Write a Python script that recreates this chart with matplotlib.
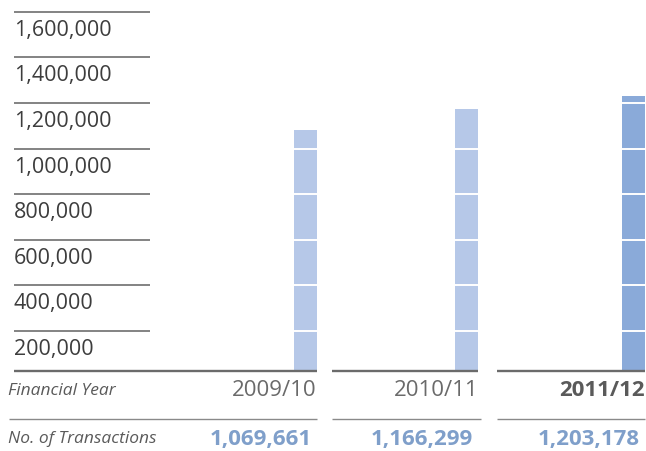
import matplotlib

matplotlib.use("Agg")

import matplotlib.pyplot as plt

# data
years = ["2009/10", "2010/11", "2011/12"]
transactions = [1069661, 1166299, 1203178]
# bar heights as drawn in the source picture (slightly taller than the table values)
bar_heights = [1080000, 1175000, 1230000]
y_ticks = [200000, 400000, 600000, 800000, 1000000, 1200000, 1400000, 1600000]
row_labels = ["Financial Year", "No. of Transactions"]

# style
BAR_COLORS = ["#b6c8e8", "#b6c8e8", "#8aaad9"]
TEXT_DARK = "#3d3d3d"
TEXT_MID = "#5a5a5a"
VALUE_COLOR = "#7f9fca"
LINE_GREY = "#7a7a7a"
BASE_GREY = "#6b6b6b"

W, H = 646, 451
BASE_PX = 371  # pixel row of the baseline
PX_PER_UNIT = 164.0  # horizontal pixels per x unit
FIRST_BAR_PX = 305.5
BAR_POS = [0, 0.982, 2.0]  # column positions (middle column sits a little left)
BAR_W = 0.14
Y0_PX = 376.5  # pixel row of value 0
PX_PER_VAL = 45.6 / 200000

plt.rcParams["font.family"] = ["Open Sans", "DejaVu Sans"]

fig = plt.figure(figsize=(W / 100, H / 100), dpi=100)
xlim = ((0 - FIRST_BAR_PX) / PX_PER_UNIT, (W - FIRST_BAR_PX) / PX_PER_UNIT)


def px_to_x(px):
    return (px - FIRST_BAR_PX) / PX_PER_UNIT


# chart area
ax = fig.add_axes([0, (H - BASE_PX) / H, 1, BASE_PX / H])
ax.set_xlim(*xlim)
ax.set_ylim((Y0_PX - BASE_PX) / PX_PER_VAL, Y0_PX / PX_PER_VAL)
ax.axis("off")

ax.bar(BAR_POS, bar_heights, width=BAR_W, color=BAR_COLORS, zorder=2)
for t in y_ticks:
    ax.hlines(t, BAR_POS[0] - BAR_W, BAR_POS[-1] + BAR_W, color="white", lw=1.4, zorder=3)
    ax.hlines(t, px_to_x(14), px_to_x(150), color=LINE_GREY, lw=1.3, zorder=3)
    ax.annotate(f"{t:,}", (px_to_x(14), t), xytext=(0, -24), textcoords="offset pixels",
                ha="left", va="baseline", fontsize=15.5, color=TEXT_DARK)

# column spans (left edge of each column, bar right edge on the right)
col_left = [px_to_x(14), px_to_x(332), px_to_x(497)]
for i, pos in enumerate(BAR_POS):
    ax.hlines(ax.get_ylim()[0], col_left[i], pos + BAR_W / 2, color=BASE_GREY, lw=1.7,
              zorder=4, clip_on=False)

# table area below the baseline
tx = fig.add_axes([0, 0, 1, (H - BASE_PX) / H])
tx.set_xlim(*xlim)
tx.set_ylim(H - BASE_PX, 0)
tx.axis("off")

tx.text(px_to_x(8), 20, row_labels[0], style="italic", fontsize=12.5, color=TEXT_MID,
        ha="left", va="center")
tx.text(px_to_x(8), 68, row_labels[1], style="italic", fontsize=12.5, color=TEXT_MID,
        ha="left", va="center")
row_line_left = [px_to_x(9), px_to_x(332), px_to_x(497)]
for i, (yr, val) in enumerate(zip(years, transactions)):
    right = BAR_POS[i] + BAR_W / 2
    last = i == len(years) - 1
    tx.text(right, 19, yr, ha="right", va="center", fontsize=16,
            color=TEXT_MID if last else "#6a6a6a", fontweight="bold" if last else "normal")
    tx.hlines(47.5, row_line_left[i], right + (0.02 if i == 1 else 0), color="#8a8a8a", lw=1.0)
    tx.text(right - 0.03, 68, f"{val:,}", ha="right", va="center", fontsize=16,
            color=VALUE_COLOR, fontweight="bold")

fig.savefig("out.png", dpi=100)
